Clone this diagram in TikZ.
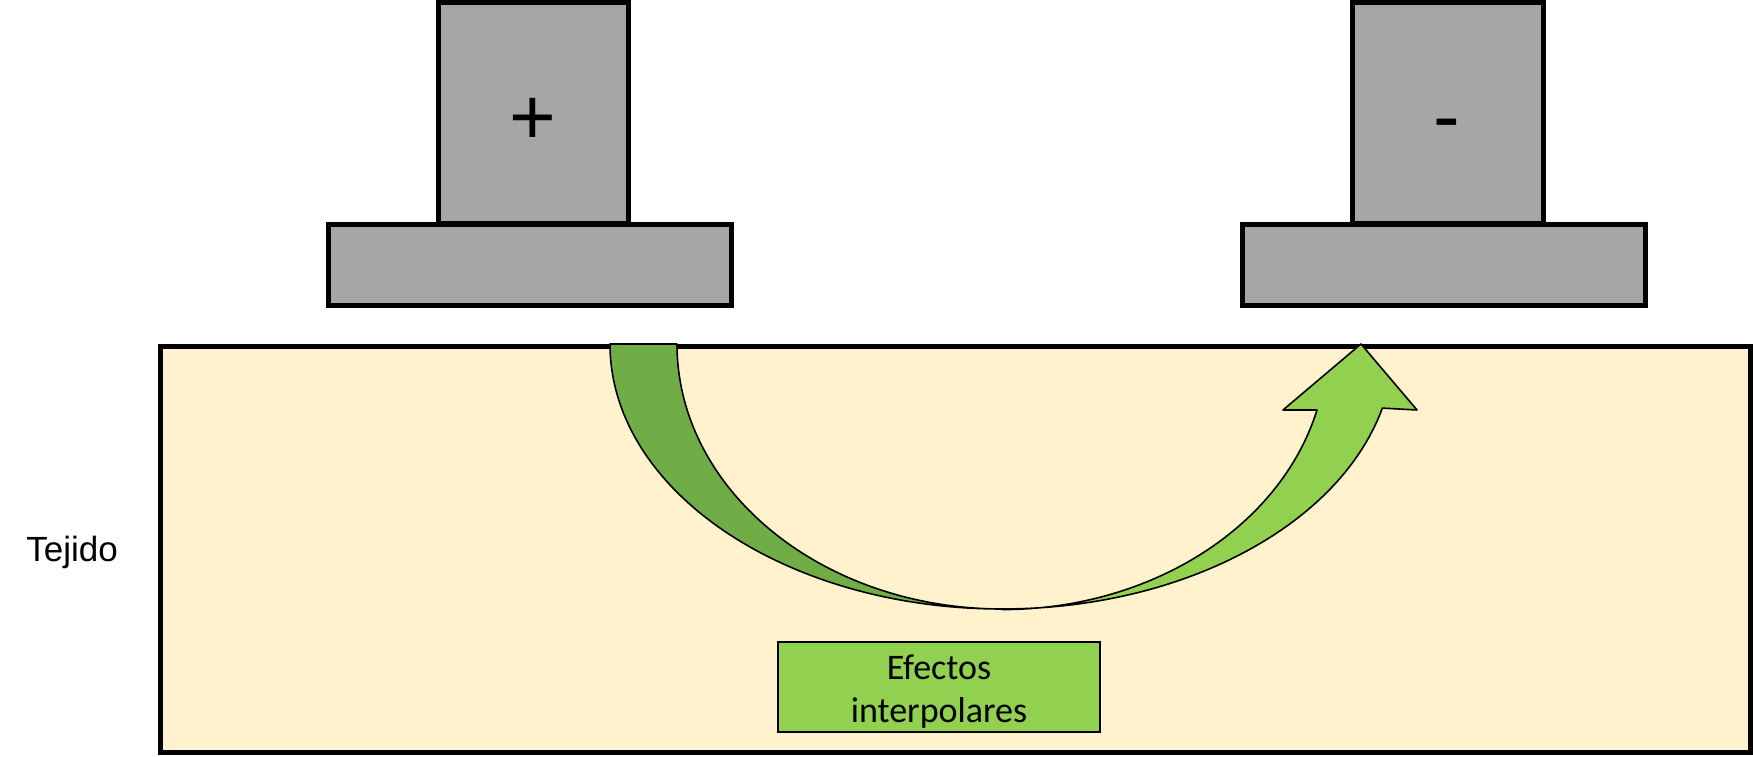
\documentclass[tikz,border=0pt]{standalone}
\usepackage{fontspec}
\setmainfont{Liberation Sans}
\newfontfamily\calibri{Carlito}
\definecolor{plategrey}{HTML}{A6A6A6}
\definecolor{tissue}{HTML}{FFF2CC}
\definecolor{darkleaf}{HTML}{70AD47}
\definecolor{lightleaf}{HTML}{92D050}

\begin{document}
\begin{tikzpicture}
  [x=0.5pt,y=0.5pt,
   plate/.style={draw,line width=2.5pt,fill=plategrey,inner sep=0pt},
   sign/.style={font=\fontsize{40}{40}\selectfont,anchor=base,inner sep=0pt},
   band/.style={draw,line width=0.8pt,line join=round}]
  \useasboundingbox (0,0) rectangle (1753,756);

  % tissue
  \node[draw,line width=2.5pt,fill=tissue,minimum width=795pt,minimum height=203pt,inner sep=0pt] (tissue) at (955,206.5) {};
  \node[font=\fontsize{17.5}{21}\selectfont] (tejido) at (72,204) {Tejido};

  % electrodes
  \node[plate,minimum width=95pt,minimum height=110.75pt] (anode) at (533,642.75) {};
  \node[plate,minimum width=201.5pt,minimum height=40.5pt] (anodebase) at (529.5,490.5) {};
  \node[plate,minimum width=95.5pt,minimum height=110.75pt] (cathode) at (1447.5,642.75) {};
  \node[plate,minimum width=201.5pt,minimum height=40.5pt] (cathodebase) at (1443.5,490.5) {};
  \node[sign] (plus) at (533,611) {+};
  \node[sign] (minus) at (1447,612) {-};

  % curved arrow
  \path[band,fill=darkleaf] (610,412) arc[start angle=180,end angle=270,x radius=392,y radius=265]
    arc[start angle=270,end angle=180,x radius=325,y radius=265] -- cycle;
  \path[band,fill=lightleaf] (1002,147) arc[start angle=270,end angle=346,x radius=392,y radius=265]
    -- (1417,346) -- (1361,412) -- (1283,346) -- (1317,346)
    arc[start angle=345.7,end angle=270,x radius=325,y radius=265] -- cycle;

  \node[draw,line width=1pt,fill=lightleaf,minimum width=161pt,minimum height=45.3pt,inner sep=0pt] (effects) at (939,69) {};
  \node[align=center,font=\calibri\fontsize{18}{21.5}\selectfont] (effectslabel) at (939,64.5) {Efectos\\interpolares};

\end{tikzpicture}
\end{document}
